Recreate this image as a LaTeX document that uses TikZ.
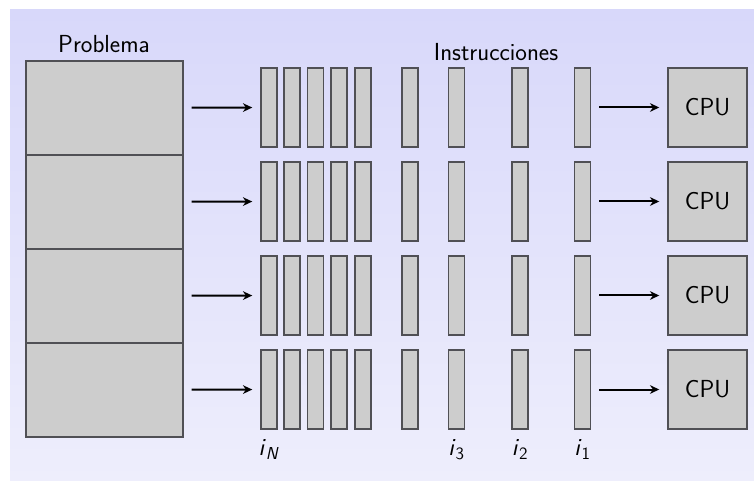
\documentclass[tikz,border=0pt]{standalone}
\usepackage{xcolor}
\usepackage{tikz}
\usetikzlibrary{positioning,arrows.meta}

\definecolor{fondoarriba}{RGB}{216,216,250}
\definecolor{fondoabajo}{RGB}{238,238,252}
\definecolor{cajagris}{RGB}{205,205,205}
\definecolor{bordegris}{RGB}{80,80,85}

\newcommand{\instr}[1]{\textit{i}\textsubscript{#1}}

\tikzset{
  parte/.style={draw=bordegris, fill=cajagris, line width=0.9pt,
    minimum width=117.75pt, minimum height=70.5pt, inner sep=0pt},
  barra/.style={draw=bordegris, fill=cajagris, line width=1.1pt,
    minimum width=12pt, minimum height=59.25pt, inner sep=0pt},
  cpu/.style={draw=bordegris, fill=cajagris, line width=1.1pt,
    minimum width=59.25pt, minimum height=59.25pt, inner sep=0pt},
  flecha/.style={-{Stealth[length=7pt,width=6.5pt]}, line width=1.5pt,
    shorten <=6pt, shorten >=6pt}
}

\begin{document}
\begin{tikzpicture}[x=0.75pt, y=-0.75pt, font=\sffamily\fontsize{18.5}{22}\selectfont]

  % Fixed size and shaded background
  \useasboundingbox (0,0) rectangle (754,481);
  \shade[top color=fondoarriba, bottom color=fondoabajo] (10,10) rectangle (754,481);

  % Problem split in four parts, one row each
  \foreach \k in {1,...,4} {
    \node[parte] (p\k) at (104.5, {108+94*(\k-1)}) {};

    % Instruction queue of the row
    \foreach \x [count=\j] in {269,292,315.5,339,363,410,456.5,520,582.5}
      \node[barra] (b\k-\j) at (\x, {107.5+94*(\k-1)}) {};

    \node[cpu] (c\k) at (707.5, {107.5+94*(\k-1)}) {CPU};

    \draw[flecha] (p\k) -- (b\k-1);
    \draw[flecha] (b\k-9) -- (c\k);
  }

  % Titles
  \node[anchor=base] (problema) at (104,53) {Problema};
  \node[anchor=base] (instrucciones) at (496,61) {Instrucciones};

  % Instruction indices
  \node[below=4pt] (iN) at (b4-1.south) {\instr{\textit{N}}};
  \node[below=4pt] (i3) at (b4-7.south) {\instr{3}};
  \node[below=4pt] (i2) at (b4-8.south) {\instr{2}};
  \node[below=4pt] (i1) at (b4-9.south) {\instr{1}};

\end{tikzpicture}
\end{document}
